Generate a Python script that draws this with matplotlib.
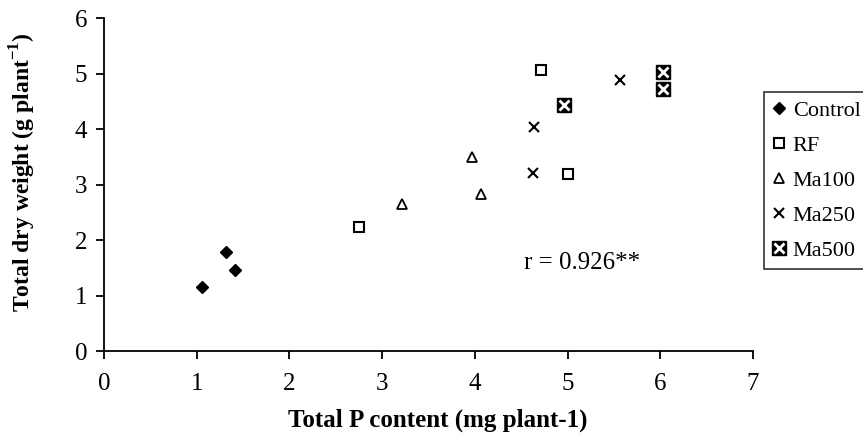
import matplotlib.pyplot as plt

plt.rcParams['font.family'] = ['Liberation Serif', 'DejaVu Serif']
plt.rcParams['mathtext.fontset'] = 'custom'
plt.rcParams['mathtext.rm'] = 'Liberation Serif'
plt.rcParams['mathtext.bf'] = 'Liberation Serif:bold'

# data
control_x = [1.06, 1.32, 1.41]
control_y = [1.15, 1.79, 1.47]
rf_x = [2.75, 4.71, 5.00]
rf_y = [2.24, 5.07, 3.20]
ma100_x = [3.21, 3.97, 4.07]
ma100_y = [2.65, 3.50, 2.83]
ma250_x = [4.63, 4.64, 5.57]
ma250_y = [3.21, 4.04, 4.88]
ma500_x = [4.96, 6.03, 6.03]
ma500_y = [4.44, 5.03, 4.73]

xticks = [0, 1, 2, 3, 4, 5, 6, 7]
yticks = [0, 1, 2, 3, 4, 5, 6]

fig = plt.figure(figsize=(8.63, 4.34), dpi=100)
ax = fig.add_axes([0.1205, 0.191, 0.752, 0.767])

h1, = ax.plot(control_x, control_y, 'D', color='black', ms=6.5, ls='none')
h2, = ax.plot(rf_x, rf_y, 's', mfc='white', mec='black', mew=1.5, ms=6.5, ls='none')
h3, = ax.plot(ma100_x, ma100_y, '^', mfc='white', mec='black', mew=1.3, ms=7, ls='none')
h4, = ax.plot(ma250_x, ma250_y, 'x', color='black', mew=1.5, ms=7, ls='none')
h5a, = ax.plot(ma500_x, ma500_y, 's', color='black', ms=10.5, ls='none')
h5b, = ax.plot(ma500_x, ma500_y, 'x', color='white', mew=2, ms=6.5, ls='none')

ax.set_xlim(0, 7)
ax.set_ylim(0, 6)
ax.set_xticks(xticks)
ax.set_yticks(yticks)
ax.spines['top'].set_visible(False)
ax.spines['right'].set_visible(False)
ax.spines['left'].set_linewidth(1.3)
ax.spines['bottom'].set_linewidth(1.3)
ax.tick_params(direction='out', length=6, width=1.3, labelsize=18)
ax.tick_params(axis='x', pad=10)
ax.tick_params(axis='y', pad=6)

ax.set_xlabel('Total P content (mg plant-1)', fontsize=18, fontweight='bold')
ax.xaxis.set_label_coords(0.515, -0.172)
ax.set_ylabel('Total dry weight (g plant$^{\\mathbf{-1}}$)', fontsize=17,
              fontweight='bold')
ax.yaxis.set_label_coords(-0.102, 0.537)

ax.text(4.53, 1.59, 'r = 0.926**', fontsize=18, va='center', ha='left')

leg = fig.legend([h1, h2, h3, h4, (h5a, h5b)],
                 ['Control', 'RF', 'Ma100', 'Ma250', 'Ma500'],
                 loc='upper left', bbox_to_anchor=(0.885, 0.787),
                 fontsize=16, frameon=True, fancybox=False, edgecolor='black',
                 handlelength=0.7, handletextpad=0.25, labelspacing=0.65,
                 borderpad=0.35, borderaxespad=0)
leg.get_frame().set_linewidth(1.2)

fig.savefig('out.png', dpi=100)
